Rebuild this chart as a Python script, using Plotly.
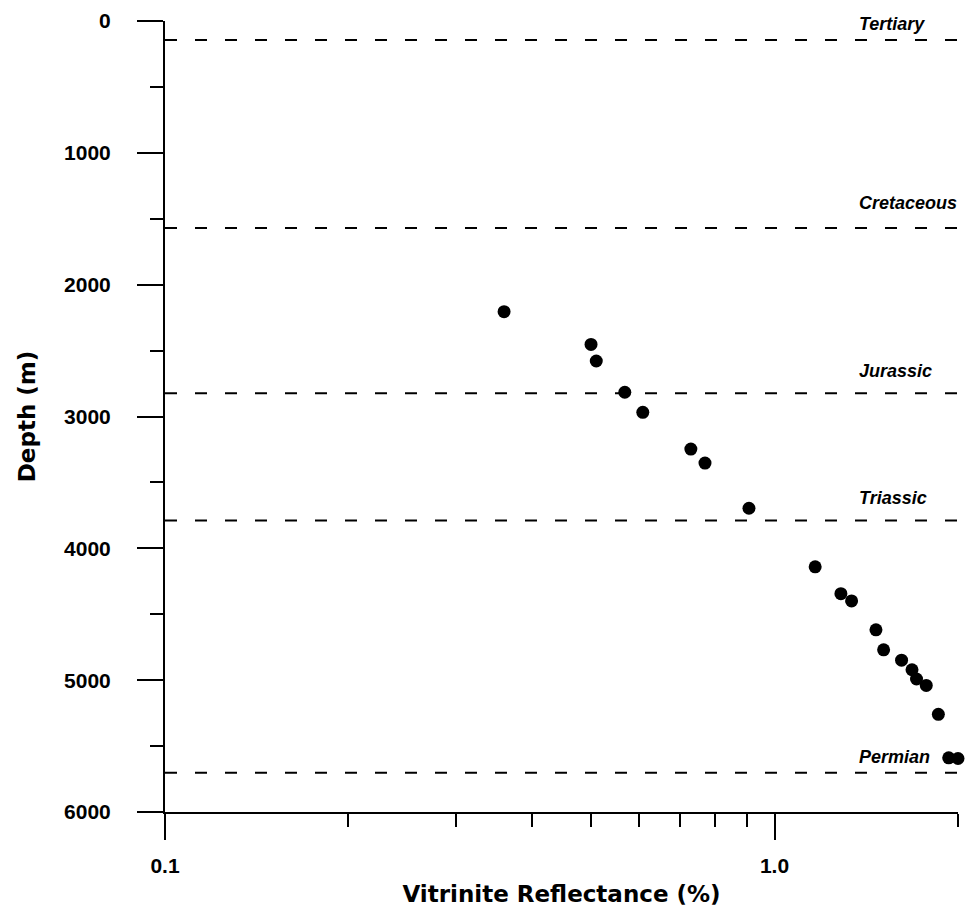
import math
import plotly.graph_objects as go

# ---- data ----
ro_values = [0.360, 0.500, 0.510, 0.568, 0.608, 0.729, 0.769, 0.908,
             1.166, 1.285, 1.338, 1.467, 1.510, 1.616, 1.681, 1.710,
             1.774, 1.857, 1.931, 2.000]
depth_values = [2205, 2453, 2579, 2816, 2968, 3247, 3353, 3696,
                4140, 4344, 4399, 4618, 4770, 4848, 4921, 4991,
                5040, 5259, 5589, 5594]

horizon_names = ["Tertiary", "Cretaceous", "Jurassic", "Triassic", "Permian"]
horizon_depths = [145, 1571, 2824, 3789, 5702]

x_tick_vals = [0.1, 1.0]
x_tick_text = ["0.1", "1.0"]
x_minor_vals = [0.2, 0.3, 0.4, 0.5, 0.6, 0.7, 0.8, 0.9, 2.0]
y_tick_vals = [0, 1000, 2000, 3000, 4000, 5000, 6000]
y_tick_text = ["0", "1000", "2000", "3000", "4000", "5000", "6000"]

# ---- styling / layout constants ----
X_RANGE = [0.1, 2.0]
LABEL_X_LOG = 0.1357                 # log10 position of labels' left edge
LABEL_YSHIFTS = [4, 13, 10, 11, 4]   # pixel lift of each horizon label

TICK_FONT = dict(family="Liberation Sans, Arial, sans-serif", size=21, color="black", weight="bold")
TITLE_FONT = dict(family="DejaVu Sans, sans-serif", size=23, color="black", weight="bold")
LABEL_FONT = dict(family="Liberation Sans, Arial, sans-serif", size=18, color="black",
                  weight="bold", style="italic")

fig = go.Figure()

# horizon boundary lines
for name, d in zip(horizon_names, horizon_depths):
    fig.add_trace(go.Scatter(
        x=X_RANGE, y=[d, d], mode="lines",
        line=dict(color="black", width=2, dash="12px,18px"),
        hoverinfo="skip", showlegend=False, cliponaxis=False,
    ))

# data points
fig.add_trace(go.Scatter(
    x=ro_values, y=depth_values, mode="markers",
    marker=dict(color="black", size=13, line=dict(width=0)),
    showlegend=False, cliponaxis=False,
))

for name, d, ys in zip(horizon_names, horizon_depths, LABEL_YSHIFTS):
    fig.add_annotation(
        x=LABEL_X_LOG, y=d, xref="x", yref="y", text=name,
        showarrow=False, xanchor="left", yanchor="bottom",
        yshift=ys, font=LABEL_FONT,
    )

fig.update_layout(
    width=967, height=914,
    margin=dict(l=165, r=9, t=18, b=102, pad=0),
    paper_bgcolor="white", plot_bgcolor="white",
    showlegend=False,
)

fig.update_xaxes(
    type="log",
    range=[math.log10(X_RANGE[0]), math.log10(X_RANGE[1])],
    showline=True, linecolor="black", linewidth=2,
    showgrid=False, zeroline=False,
    ticks="outside", ticklen=26, tickwidth=2, tickcolor="black",
    tickmode="array", tickvals=x_tick_vals, ticktext=x_tick_text,
    tickfont=TICK_FONT, ticklabelstandoff=8,
    minor=dict(ticks="outside", ticklen=13, tickwidth=2, tickcolor="black",
               tickmode="array", tickvals=x_minor_vals, showgrid=False),
    title=dict(text="Vitrinite Reflectance (%)", font=TITLE_FONT, standoff=10),
)

fig.update_yaxes(
    range=[6000, 0],
    showline=True, linecolor="black", linewidth=2,
    showgrid=False, zeroline=False,
    ticks="outside", ticklen=26, tickwidth=2, tickcolor="black",
    tickmode="array", tickvals=y_tick_vals, ticktext=y_tick_text,
    tickfont=TICK_FONT, ticklabelstandoff=22,
    minor=dict(ticks="outside", ticklen=13, tickwidth=2, tickcolor="black",
               dtick=500, tick0=0, showgrid=False),
    title=dict(text="Depth (m)", font=TITLE_FONT, standoff=22),
)

fig.write_html(
    "out.html",
    config={"displayModeBar": False},
    post_script="document.body.style.margin='0';document.body.style.padding='0';",
)
